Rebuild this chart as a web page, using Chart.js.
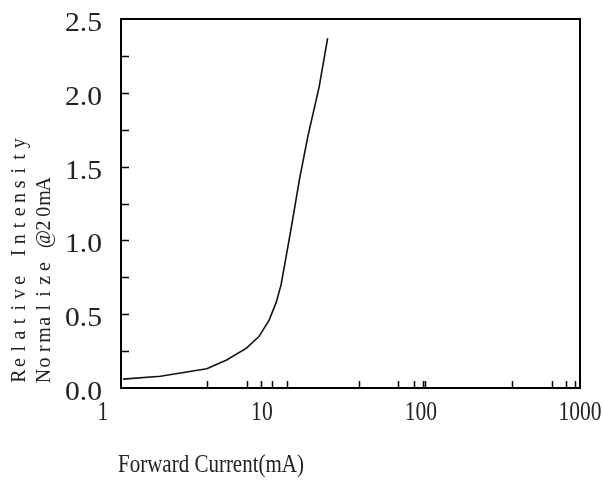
<!DOCTYPE html>
<html>
<head>
<meta charset="utf-8">
<script src="https://cdn.jsdelivr.net/npm/chart.js@4.4.1/dist/chart.umd.min.js"></script>
<style>
  html, body { margin: 0; padding: 0; background: #fff; }
  #wrap { width: 603px; height: 484px; position: relative; }
</style>
</head>
<body>
<div id="wrap"><canvas id="chart"></canvas></div>
<script>
// curve (forward current in mA, relative intensity)
const currentMA = [1.34, 2.3, 4.5, 6.0, 8.0, 9.6, 11.1, 12.3, 13.2, 15.2, 17.2, 19.4, 22.9, 25.9];
const relIntensity = [0.06, 0.08, 0.13, 0.19, 0.27, 0.35, 0.46, 0.58, 0.70, 1.07, 1.41, 1.70, 2.04, 2.37];

// axis labels and the little inward tick marks
const yTickLabels = [0.0, 0.5, 1.0, 1.5, 2.0, 2.5];
const yTickMarks = [0.25, 0.5, 0.75, 1.0, 1.25, 1.5, 1.75, 2.0, 2.25];
const xTickLabels = [1, 10, 100, 1000];
const xTickMarks = [4.5, 8, 9.9, 11.6, 14.3, 41, 72, 90, 103, 106, 373, 666, 819, 933];

const xTitle = "Forward Current(mA)";
const yTitleLines = ["Relative Intensity", "Normalize @20mA"];

const textColor = "#222";

// draw text squeezed/stretched to a given width
function fitText(ctx, text, x, y, width, align) {
  const w = ctx.measureText(text).width;
  ctx.save();
  ctx.translate(x, y);
  ctx.scale(width / w, 1);
  ctx.textAlign = align;
  ctx.fillText(text, 0, 0);
  ctx.restore();
}

// one char per fixed cell, like the old mono plot font
function monoText(ctx, text, pitch) {
  ctx.textAlign = "center";
  for (let i = 0; i < text.length; i++) {
    ctx.fillText(text[i], i * pitch + pitch / 2, 0);
  }
}

const framePlugin = {
  id: "frame",
  afterDraw(chart) {
    const ctx = chart.ctx;
    const area = chart.chartArea;
    const xs = chart.scales.x;
    const ys = chart.scales.y;

    ctx.save();
    ctx.strokeStyle = "#000";
    ctx.lineWidth = 2;
    ctx.strokeRect(area.left, area.top, area.right - area.left, area.bottom - area.top);

    // inward ticks
    ctx.lineWidth = 1.5;
    ctx.beginPath();
    yTickMarks.forEach(v => {
      const py = Math.round(ys.getPixelForValue(v)) + 0.5;
      ctx.moveTo(area.left, py);
      ctx.lineTo(area.left + 8, py);
    });
    xTickMarks.forEach(v => {
      const px = Math.round(xs.getPixelForValue(v)) + 0.5;
      ctx.moveTo(px, area.bottom);
      ctx.lineTo(px, area.bottom - 7);
    });
    ctx.stroke();

    ctx.fillStyle = textColor;
    ctx.textBaseline = "alphabetic";

    // y tick labels
    ctx.font = "27px 'Liberation Serif'";
    yTickLabels.forEach(v => {
      const py = ys.getPixelForValue(v);
      fitText(ctx, v.toFixed(1), area.left - 19, py + 12, 37, "right");
    });

    // x tick labels
    xTickLabels.forEach(v => {
      const px = xs.getPixelForValue(v);
      const s = String(v);
      fitText(ctx, s, px, area.bottom + 32, 10.8 * s.length, "center");
    });

    // x title
    ctx.font = "26px 'Liberation Serif'";
    fitText(ctx, xTitle, 118, 472, 186, "left");

    // y title, two rotated lines
    ctx.font = "20px 'Liberation Serif'";
    const baseX = [25, 50];
    yTitleLines.forEach((line, i) => {
      ctx.save();
      ctx.translate(baseX[i], 383);
      ctx.rotate(-Math.PI / 2);
      monoText(ctx, line, 13.7);
      ctx.restore();
    });
    ctx.restore();
  }
};

new Chart(document.getElementById("chart"), {
  type: "line",
  data: {
    datasets: [{
      data: currentMA.map((x, i) => ({ x: x, y: relIntensity[i] })),
      borderColor: "#111",
      borderWidth: 1.6,
      pointRadius: 0,
      tension: 0,
      fill: false
    }]
  },
  options: {
    responsive: true,
    maintainAspectRatio: false,
    animation: false,
    layout: { padding: { left: 121, right: 23, top: 19, bottom: 96 } },
    plugins: {
      legend: { display: false },
      tooltip: { enabled: false }
    },
    scales: {
      x: { type: "logarithmic", min: 1.3, max: 1000, bounds: "data", display: false },
      y: { type: "linear", min: 0, max: 2.5, display: false }
    }
  },
  plugins: [framePlugin]
});
</script>
</body>
</html>
